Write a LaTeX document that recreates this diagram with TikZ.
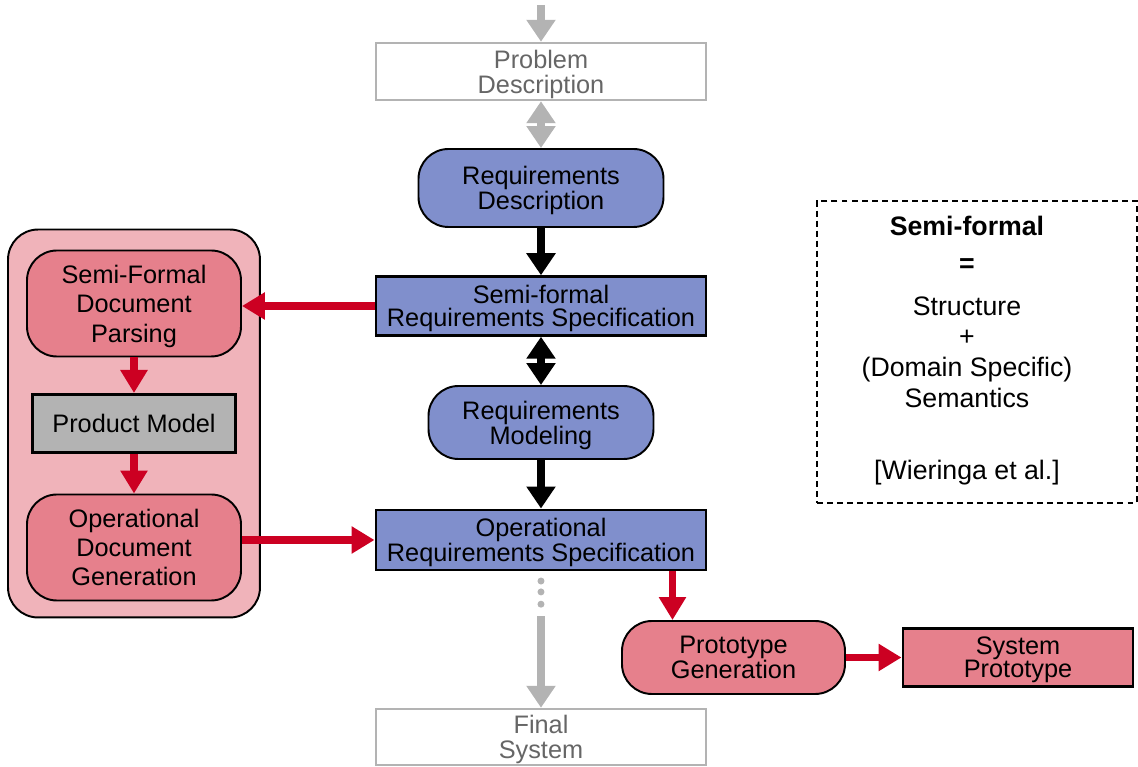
\documentclass[tikz,border=0pt]{standalone}
\usepackage{fontspec}
\setmainfont{Liberation Sans}
\usetikzlibrary{arrows.meta,positioning,fit,backgrounds,calc}

\definecolor{reqblue}{RGB}{128,143,204}
\definecolor{toolred}{RGB}{230,128,140}
\definecolor{toolpink}{RGB}{240,179,186}
\definecolor{flowred}{RGB}{204,0,34}
\definecolor{ghostgray}{RGB}{179,179,179}
\definecolor{ghosttext}{RGB}{102,102,102}

\begin{document}
\begin{tikzpicture}[node distance=2.34cm,on grid,
  font=\fontsize{14.4}{14.2}\selectfont,
  plainbox/.style={draw,align=center,inner sep=0pt,text depth=0pt},
  ghostbox/.style={plainbox,draw=ghostgray,line width=1.4pt,text=ghosttext,
    minimum width=6.6cm,minimum height=1.14cm},
  specbox/.style={plainbox,fill=reqblue,line width=1.7pt,minimum width=6.6cm,
    minimum height=1.17cm,font=\fontsize{14.4}{13}\selectfont},
  reqpill/.style={plainbox,fill=reqblue,line width=1.1pt,rounded corners=0.6cm},
  toolpill/.style={plainbox,fill=toolred,line width=1.1pt,rounded corners=0.6cm,
    minimum width=4.28cm,minimum height=2.12cm},
  flow/.style={line width=4.5pt,-{Triangle[width=0.56cm,length=0.44cm]}},
  twoflow/.style={line width=4.5pt,{Triangle[width=0.56cm,length=0.44cm]}-{Triangle[width=0.56cm,length=0.44cm]}},
  ghostflow/.style={flow,ghostgray},
  redflow/.style={line width=4pt,flowred,-{Triangle[width=0.52cm,length=0.46cm]}}
  ]
  \useasboundingbox (-10.82,1.43) rectangle (11.94,-13.91);

  % main column
  \path
  node[ghostbox] (problem) {Problem\\Description}
  node[reqpill,minimum width=4.9cm,minimum height=1.56cm] (reqdesc) [below=2.33cm of problem] {Requirements\\Description}
  node[specbox] (semispec) [below=2.36cm of reqdesc] {Semi-formal\\Requirements Specification}
  node[reqpill,minimum width=4.5cm,minimum height=1.46cm] (reqmod) [below=2.33cm of semispec] {Requirements\\Modeling}
  node[specbox,minimum height=1.2cm] (opspec) [below=2.35cm of reqmod] {Operational\\Requirements Specification}
  node[ghostbox,minimum height=1.12cm] (final) [below=3.94cm of opspec] {Final\\System}
  ;
  % tool chain
  \path
  node[toolpill,font=\fontsize{14.4}{16.8}\selectfont,yshift=0.05cm] (parsing) [left=8.14cm of semispec] {Semi-Formal\\Document\\Parsing}
  node[plainbox,fill=ghostgray,line width=1.7pt,minimum width=4.06cm,minimum height=1.16cm] (product) [below=2.4cm of parsing] {Product Model}
  node[toolpill,font=\fontsize{14.4}{16.6}\selectfont] (opdoc) [below=2.48cm of product] {Operational\\Document\\Generation}
  node[toolpill,minimum width=4.46cm,minimum height=1.46cm] (protogen) [below right=2.35cm and 3.85cm of opspec] {Prototype\\Generation}
  node[plainbox,fill=toolred,line width=1.7pt,minimum width=4.6cm,minimum height=1.16cm,font=\fontsize{14.4}{13}\selectfont] (sysproto) [right=5.69cm of protogen] {System\\Prototype}
  ;
  % definition note
  \node[draw,line width=1.1pt,dash pattern=on 3.4pt off 2.3pt,minimum width=6.4cm,minimum height=6.04cm] (note) [below right=0.92cm and 8.72cm of semispec] {};
  \node[align=center,font=\fontsize{15.2}{17.5}\selectfont,xshift=-0.2cm,yshift=0.03cm] (notetext) at (note.center)
    {{\bfseries Semi-formal}\\[0.12cm]{\bfseries =}\\[0.24cm]Structure\\+\\(Domain Specific)\\Semantics\\[0.82cm]{[Wieringa et al.]}};

  \begin{scope}[on background layer]
    \node[draw,fill=toolpink,line width=1.1pt,rounded corners=0.6cm,inner sep=0.36cm,fit=(parsing)(product)(opdoc),yshift=0.04cm] (tools) {};
  \end{scope}

  \coordinate[above=1.33cm of problem] (feed);
  \coordinate (resume) at ($(opspec.south)!0.33!(final.north)$);
  \path
  (feed) edge[ghostflow] (problem)
  (problem) edge[twoflow,ghostgray] (reqdesc)
  (reqdesc) edge[flow] (semispec)
  (semispec) edge[twoflow] (reqmod)
  (reqmod) edge[flow] (opspec)
  (resume) edge[ghostflow] (final)
  (semispec.west) edge[redflow] (parsing.east |- semispec.west)
  (parsing) edge[redflow] (product)
  (product) edge[redflow] (opdoc)
  (opdoc.east |- opspec.west) edge[redflow] (opspec.west)
  ([xshift=-0.7cm]opspec.south east) edge[redflow] ([xshift=-0.7cm]opspec.south east |- protogen.north)
  (protogen) edge[redflow] (sysproto)
  ;
  \foreach \p in {0.07,0.15,0.24}
    \fill[ghostgray] ($(opspec.south)!\p!(final.north)$) circle (0.07cm);
\end{tikzpicture}
\end{document}
